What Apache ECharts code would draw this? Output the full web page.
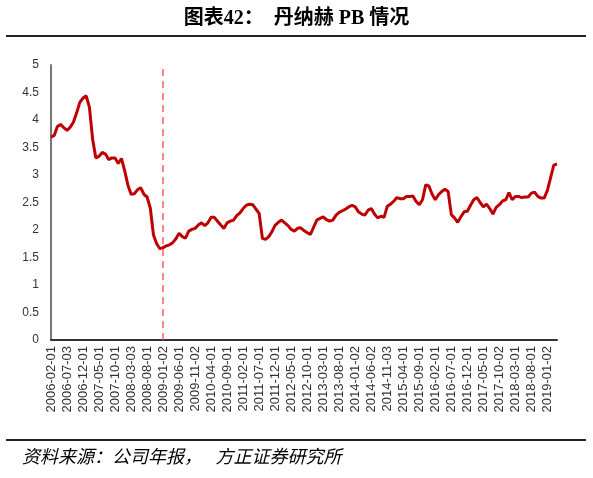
<!DOCTYPE html>
<html><head><meta charset="utf-8">
<script src="https://cdn.jsdelivr.net/npm/echarts@6/dist/echarts.min.js"></script>
<style>html,body{margin:0;padding:0;background:#fff}#c{width:593px;height:478px}</style>
</head><body><div id="c"></div>
<script>
const startYear = 2006, startMonth = 2;
const tickLabels = ["2006-02-01","2006-07-03","2006-12-01","2007-05-01","2007-10-01","2008-03-03","2008-08-01","2009-01-02","2009-06-01","2009-11-02","2010-04-01","2010-09-01","2011-02-01","2011-07-01","2011-12-01","2012-05-01","2012-10-01","2013-03-01","2013-08-01","2014-01-02","2014-06-02","2014-11-03","2015-04-01","2015-09-01","2016-02-01","2016-07-01","2016-12-01","2017-05-01","2017-10-02","2018-03-01","2018-08-01","2019-01-02"];
const pbValues = [3.69,3.72,3.88,3.92,3.86,3.81,3.87,3.96,4.13,4.32,4.40,4.44,4.23,3.65,3.31,3.34,3.41,3.38,3.28,3.31,
3.31,3.21,3.30,3.08,2.82,2.65,2.66,2.73,2.77,2.65,2.60,2.40,1.91,1.75,1.66,1.68,1.71,1.73,1.77,1.84,
1.94,1.88,1.85,1.98,2.01,2.03,2.09,2.13,2.08,2.13,2.23,2.23,2.16,2.09,2.03,2.13,2.16,2.18,2.26,2.31,
2.39,2.45,2.47,2.46,2.38,2.30,1.85,1.83,1.88,1.97,2.09,2.14,2.18,2.13,2.08,2.01,1.98,2.03,2.04,1.99,
1.95,1.92,2.05,2.18,2.21,2.24,2.19,2.16,2.18,2.27,2.32,2.35,2.38,2.42,2.45,2.42,2.33,2.29,2.27,2.36,
2.39,2.29,2.22,2.25,2.23,2.43,2.47,2.52,2.59,2.57,2.57,2.61,2.61,2.62,2.52,2.46,2.55,2.82,2.80,2.65,
2.55,2.64,2.70,2.74,2.70,2.28,2.22,2.14,2.24,2.33,2.34,2.45,2.55,2.59,2.50,2.42,2.47,2.39,2.29,2.41,
2.46,2.53,2.55,2.68,2.55,2.61,2.61,2.59,2.60,2.60,2.67,2.69,2.61,2.58,2.58,2.72,2.95,3.18,3.20];
const markDate = "2009-01-02";
const categories = pbValues.map((v,i)=>{const m=startMonth-1+i;const y=startYear+Math.floor(m/12);const mm=(m%12)+1;return y+"-"+String(mm).padStart(2,"0");});
const markIdx = tickLabels.indexOf(markDate)*5;
const chart = echarts.init(document.getElementById('c'));
chart.setOption({
  animation:false,
  title:{text:'图表42：  丹纳赫 PB 情况',left:'center',top:4,textStyle:{fontFamily:'"Liberation Serif","Noto Sans CJK SC"',fontWeight:'bold',fontSize:20,color:'#000'}},
  graphic:[
    {type:'line',shape:{x1:6,y1:36,x2:586,y2:36},style:{stroke:'#222',lineWidth:2}},
    {type:'line',shape:{x1:6,y1:440,x2:586,y2:440},style:{stroke:'#222',lineWidth:2}},
    {type:'text',left:22,top:449,style:{text:'资料来源：公司年报，   方正证券研究所',font:'italic 18px "Liberation Serif","Noto Sans CJK SC"',fill:'#000'}}
  ],
  grid:{left:51,right:36,top:65,bottom:138},
  xAxis:{type:'category',data:categories,boundaryGap:false,
    axisLine:{lineStyle:{color:'#333',width:2}},axisTick:{show:false},
    axisLabel:{rotate:90,fontSize:13,color:'#333',fontFamily:'Liberation Sans',interval:0,margin:6,
      formatter:(v,i)=> i%5===0 ? (tickLabels[i/5]||'') : ''}},
  yAxis:{type:'value',min:0,max:5,interval:0.5,
    axisLine:{show:true,lineStyle:{color:'#777',width:2}},splitLine:{show:false},axisTick:{show:false},
    axisLabel:{fontSize:12,color:'#333',fontFamily:'Liberation Sans',margin:12}},
  series:[{type:'line',data:pbValues,showSymbol:false,lineStyle:{color:'#c00000',width:3},
    markLine:{symbol:'none',silent:true,label:{show:false},lineStyle:{color:'#ff6060',type:[7,5],width:1.5},data:[{xAxis:markIdx}]}}]
});
</script></body></html>
